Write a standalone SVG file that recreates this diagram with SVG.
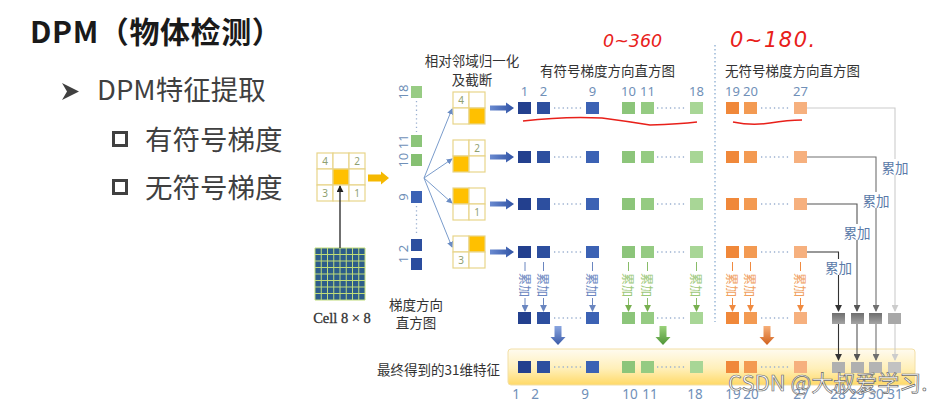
<svg xmlns="http://www.w3.org/2000/svg" width="942" height="403" viewBox="0 0 942 403">
<style>
.cjk{font-family:"Noto Sans CJK SC","Noto Sans",sans-serif}
.num{font-family:"Noto Sans","Noto Sans CJK SC",sans-serif;font-size:13px;fill:#7090b8}
.bnum{font-family:"Noto Sans","Noto Sans CJK SC",sans-serif;font-size:13.5px;fill:#7090b8;text-anchor:middle}
.lbl{font-family:"Noto Sans CJK SC",sans-serif;font-size:13.5px;fill:#333}
.acc{font-family:"Noto Sans CJK SC",sans-serif;font-size:13.5px;fill:#5a7aa8}
.vacc{font-family:"Noto Sans CJK SC",sans-serif;font-size:12px}
.gcell{fill:#fff;stroke:#e8d58a;stroke-width:1.2}
.gnum{font-family:"Noto Sans",sans-serif;font-size:10px;fill:#8fa070;text-anchor:middle;dominant-baseline:central}
.hl{fill:#ffc000}
.dots{stroke:#9ab0d0;stroke-width:1.3;stroke-dasharray:1.3 3;fill:none}
.red{fill:#e8201a;font-family:"DejaVu Sans",sans-serif;font-style:italic}
</style>
<defs>
<marker id="ahBlue" viewBox="0 0 8 8" refX="7" refY="4" markerWidth="6" markerHeight="6" markerUnits="userSpaceOnUse" orient="auto"><path d="M0,0 L8,4 L0,8 z" fill="#6a8cc4"/></marker>
<marker id="ahBlack" viewBox="0 0 8 8" refX="7" refY="4" markerWidth="7" markerHeight="7" markerUnits="userSpaceOnUse" orient="auto"><path d="M0,0 L8,4 L0,8 z" fill="#222"/></marker>
<marker id="ahG1" viewBox="0 0 8 8" refX="7" refY="4" markerWidth="7" markerHeight="7" markerUnits="userSpaceOnUse" orient="auto"><path d="M0,0 L8,4 L0,8 z" fill="#333"/></marker>
<marker id="ahG2" viewBox="0 0 8 8" refX="7" refY="4" markerWidth="7" markerHeight="7" markerUnits="userSpaceOnUse" orient="auto"><path d="M0,0 L8,4 L0,8 z" fill="#555"/></marker>
<marker id="ahG3" viewBox="0 0 8 8" refX="7" refY="4" markerWidth="7" markerHeight="7" markerUnits="userSpaceOnUse" orient="auto"><path d="M0,0 L8,4 L0,8 z" fill="#707070"/></marker>
<marker id="ahG4" viewBox="0 0 8 8" refX="7" refY="4" markerWidth="7" markerHeight="7" markerUnits="userSpaceOnUse" orient="auto"><path d="M0,0 L8,4 L0,8 z" fill="#cccccc"/></marker>
<marker id="ahVB" viewBox="0 0 8 8" refX="7" refY="4" markerWidth="7" markerHeight="7" markerUnits="userSpaceOnUse" orient="auto"><path d="M0,0 L8,4 L0,8 z" fill="#6a86c0"/></marker>
<marker id="ahVG" viewBox="0 0 8 8" refX="7" refY="4" markerWidth="7" markerHeight="7" markerUnits="userSpaceOnUse" orient="auto"><path d="M0,0 L8,4 L0,8 z" fill="#78b050"/></marker>
<marker id="ahVO" viewBox="0 0 8 8" refX="7" refY="4" markerWidth="7" markerHeight="7" markerUnits="userSpaceOnUse" orient="auto"><path d="M0,0 L8,4 L0,8 z" fill="#f08a40"/></marker>
<linearGradient id="barG" x1="0" y1="0" x2="0" y2="1"><stop offset="0" stop-color="#fffbf0"/><stop offset="0.55" stop-color="#ffefb8"/><stop offset="1" stop-color="#ffd966"/></linearGradient>
<linearGradient id="bArr" x1="0" y1="0" x2="1" y2="0"><stop offset="0" stop-color="#6a8ad0"/><stop offset="1" stop-color="#2f52a4"/></linearGradient>
<linearGradient id="dB" x1="0" y1="0" x2="0" y2="1"><stop offset="0" stop-color="#8aa6e0"/><stop offset="1" stop-color="#3a5aa8"/></linearGradient>
<linearGradient id="dG" x1="0" y1="0" x2="0" y2="1"><stop offset="0" stop-color="#9ad27a"/><stop offset="1" stop-color="#4e9436"/></linearGradient>
<linearGradient id="dO" x1="0" y1="0" x2="0" y2="1"><stop offset="0" stop-color="#f7b07a"/><stop offset="1" stop-color="#d0601c"/></linearGradient>
<linearGradient id="gray" x1="0" y1="0" x2="0" y2="1"><stop offset="0" stop-color="#6e6e6e"/><stop offset="1" stop-color="#a4a4a4"/></linearGradient>
<g id="sqRow">
<rect x="518" y="0" width="13" height="12" fill="#23408e"/>
<rect x="537" y="0" width="13" height="12" fill="#2d4f9f"/>
<rect x="586" y="0" width="13" height="12" fill="#3c62b4"/>
<rect x="622" y="0" width="13" height="12" fill="#8cc57a"/>
<rect x="641" y="0" width="13" height="12" fill="#95cb82"/>
<rect x="690" y="0" width="13" height="12" fill="#a8d696"/>
<rect x="726" y="0" width="13" height="12" fill="#f0883a"/>
<rect x="744" y="0" width="13" height="12" fill="#f39a52"/>
<rect x="794" y="0" width="13" height="12" fill="#f6b07e"/>
<path class="dots" d="M554,6 H584 M657,6 H687 M761,6 H791"/>
</g>
<polygon id="blueArr" points="0,-2.5 16,-2.5 16,-5.5 24,0 16,5.5 16,2.5 0,2.5" fill="url(#bArr)"/>
</defs>

<!-- Left text -->
<g id="title">
<text x="30" y="43" class="cjk" font-size="30" font-weight="bold" fill="#1a1a1a" letter-spacing="0.6">DPM（物体检测）</text>
</g>
<g id="bullet1">
<polygon points="62,83 79,91.5 62,100 67,91.5" fill="#404040"/>
<text x="97" y="100" class="cjk" font-size="27.5" fill="#404040">DPM特征提取</text>
</g>
<g id="bullet2">
<rect x="113.5" y="132.5" width="13" height="13" fill="none" stroke="#404040" stroke-width="3"/>
<text x="145" y="150" class="cjk" font-size="27.5" fill="#404040">有符号梯度</text>
</g>
<g id="bullet3">
<rect x="113.5" y="180.5" width="13" height="13" fill="none" stroke="#404040" stroke-width="3"/>
<text x="145" y="198" class="cjk" font-size="27.5" fill="#404040">无符号梯度</text>
</g>

<!-- Cell 8x8 -->
<g id="cell">
<rect x="315" y="248" width="50" height="52" fill="#2d5d8a"/>
<path d="M315,248 H365 V300 H315 Z M321.25,248 V300 M327.5,248 V300 M333.75,248 V300 M340,248 V300 M346.25,248 V300 M352.5,248 V300 M358.75,248 V300 M315,254.5 H365 M315,261 H365 M315,267.5 H365 M315,274 H365 M315,280.5 H365 M315,287 H365 M315,293.5 H365" fill="none" stroke="#c0dc78" stroke-width="1"/>
<text x="342" y="323" text-anchor="middle" font-family="Liberation Serif,serif" font-size="14.5" fill="#333" stroke="#333" stroke-width="0.3">Cell 8 × 8</text>
</g>

<!-- 3x3 grid -->
<g id="grid3">
<rect class="gcell" x="317" y="153" width="16" height="16"/><rect class="gcell" x="333" y="153" width="16" height="16"/><rect class="gcell" x="349" y="153" width="16" height="16"/>
<rect class="gcell" x="317" y="169" width="16" height="16"/><rect class="gcell hl" x="333" y="169" width="16" height="16"/><rect class="gcell" x="349" y="169" width="16" height="16"/>
<rect class="gcell" x="317" y="185" width="16" height="16"/><rect class="gcell" x="333" y="185" width="16" height="16"/><rect class="gcell" x="349" y="185" width="16" height="16"/>
<text class="gnum" x="325" y="161">4</text><text class="gnum" x="357" y="161">2</text>
<text class="gnum" x="325" y="193">3</text><text class="gnum" x="357" y="193">1</text>
</g>

<!-- vertical histogram -->
<g id="vhist">
<rect x="411" y="86" width="11" height="12" fill="#98cc84"/>
<rect x="411" y="135" width="11" height="12" fill="#8cc57a"/>
<rect x="411" y="154" width="11" height="12" fill="#86c072"/>
<rect x="411" y="191" width="11" height="12" fill="#3c62b4"/>
<rect x="411" y="239" width="11" height="12" fill="#2d4f9f"/>
<rect x="411" y="258" width="11" height="12" fill="#2a4c9e"/>
<path d="M416.5,101 V132 M416.5,206 V236" fill="none" stroke="#9ab0d0" stroke-width="1.3" stroke-dasharray="1.3 3"/>
<text class="num" transform="translate(403,92) rotate(-90)" text-anchor="middle" dominant-baseline="central">18</text>
<text class="num" transform="translate(403,151) rotate(-90)" text-anchor="middle" dominant-baseline="central">10 11</text>
<text class="num" transform="translate(403,197) rotate(-90)" text-anchor="middle" dominant-baseline="central">9</text>
<text class="num" transform="translate(403,254) rotate(-90)" text-anchor="middle" dominant-baseline="central">1 2</text>
<text class="lbl" x="416" y="310" text-anchor="middle">梯度方向</text>
<text class="lbl" x="416" y="328" text-anchor="middle">直方图</text>
</g>

<!-- normalization label -->
<g id="normLabel">
<text class="lbl" x="472" y="66" text-anchor="middle">相对邻域归一化</text>
<text class="lbl" x="472" y="85" text-anchor="middle">及截断</text>
</g>

<!-- mini grids -->
<g id="mini1">
<rect class="gcell" x="453" y="92" width="16" height="16"/><rect class="gcell" x="469" y="92" width="16" height="16"/>
<rect class="gcell" x="453" y="108" width="16" height="16"/><rect class="gcell hl" x="469" y="108" width="16" height="16"/>
<text class="gnum" x="461" y="100">4</text>
</g>
<g id="mini2">
<rect class="gcell" x="453" y="140" width="16" height="16"/><rect class="gcell" x="469" y="140" width="16" height="16"/>
<rect class="gcell hl" x="453" y="156" width="16" height="16"/><rect class="gcell" x="469" y="156" width="16" height="16"/>
<text class="gnum" x="477" y="148">2</text>
</g>
<g id="mini3">
<rect class="gcell hl" x="453" y="188" width="16" height="16"/><rect class="gcell" x="469" y="188" width="16" height="16"/>
<rect class="gcell" x="453" y="204" width="16" height="16"/><rect class="gcell" x="469" y="204" width="16" height="16"/>
<text class="gnum" x="477" y="212">1</text>
</g>
<g id="mini4">
<rect class="gcell" x="453" y="236" width="16" height="16"/><rect class="gcell hl" x="469" y="236" width="16" height="16"/>
<rect class="gcell" x="453" y="252" width="16" height="16"/><rect class="gcell" x="469" y="252" width="16" height="16"/>
<text class="gnum" x="461" y="260">3</text>
</g>

<!-- headers -->
<g id="headers">
<text class="lbl" x="540" y="76" fill="#444">有符号梯度方向直方图</text>
<text class="lbl" x="725" y="76" fill="#444">无符号梯度方向直方图</text>
<text class="num" x="524.5" y="96" text-anchor="middle">1</text>
<text class="num" x="543.5" y="96" text-anchor="middle">2</text>
<text class="num" x="592.5" y="96" text-anchor="middle">9</text>
<text class="num" x="628.5" y="96" text-anchor="middle">10</text>
<text class="num" x="647.5" y="96" text-anchor="middle">11</text>
<text class="num" x="696.5" y="96" text-anchor="middle">18</text>
<text class="num" x="732.5" y="96" text-anchor="middle">19</text>
<text class="num" x="750.5" y="96" text-anchor="middle">20</text>
<text class="num" x="800.5" y="96" text-anchor="middle">27</text>
</g>

<!-- handwritten annotations -->
<g id="annot">
<text class="red" x="603" y="47" font-size="17.5">0~360</text>
<text class="red" x="730" y="47" font-size="21" letter-spacing="1.5">0~180.</text>
<path d="M523,121 Q565,116 602,118 Q625,121 650,125 Q680,124 697,122" fill="none" stroke="#e8201a" stroke-width="1.6"/>
<path d="M733,122 Q752,126 770,123 Q788,120 802,120" fill="none" stroke="#e8201a" stroke-width="1.6"/>
</g>

<!-- divider -->
<line x1="715" y1="45" x2="715" y2="322" stroke="#9bb8d8" stroke-width="1.5" stroke-dasharray="1.5 2.5"/>

<!-- histogram rows -->
<g id="row1"><use href="#sqRow" y="102"/></g>
<g id="row2"><use href="#sqRow" y="151"/></g>
<g id="row3"><use href="#sqRow" y="198"/></g>
<g id="row4"><use href="#sqRow" y="246"/></g>
<g id="rowSum"><use href="#sqRow" y="312"/></g>

<!-- gray accumulated squares -->
<g id="graySum">
<rect x="832" y="313" width="13" height="11" fill="url(#gray)"/>
<rect x="851" y="313" width="13" height="11" fill="url(#gray)"/>
<rect x="869" y="313" width="13" height="11" fill="url(#gray)"/>
<rect x="888" y="313" width="13" height="11" fill="#a8a8a8"/>
</g>

<!-- final bar -->
<g id="finalBar">
<rect x="508" y="349" width="407" height="36" rx="3" fill="url(#barG)" stroke="#f2dfa6" stroke-width="1"/>
<use href="#sqRow" y="361"/>
<rect x="832" y="362" width="13" height="11" fill="#b0b0b0"/>
<rect x="851" y="362" width="13" height="11" fill="#b0b0b0"/>
<rect x="869" y="362" width="13" height="11" fill="#b4b4b4"/>
<rect x="888" y="362" width="13" height="11" fill="#c2c2c2"/>
<text class="lbl" x="377" y="375">最终得到的31维特征</text>
<text class="bnum" x="516" y="399">1</text>
<text class="bnum" x="535" y="399">2</text>
<text class="bnum" x="585" y="399">9</text>
<text class="bnum" x="630" y="399">10</text>
<text class="bnum" x="650" y="399">11</text>
<text class="bnum" x="695" y="399">18</text>
<text class="bnum" x="733" y="399">19</text>
<text class="bnum" x="751" y="399">20</text>
<text class="bnum" x="801" y="399">27</text>
<text class="bnum" x="838" y="399">28</text>
<text class="bnum" x="857" y="399">29</text>
<text class="bnum" x="876" y="399">30</text>
<text class="bnum" x="895" y="399">31</text>
</g>

<!-- connectors -->
<g id="connectors">
<line x1="340" y1="248" x2="340" y2="186" stroke="#222" stroke-width="1.3" marker-end="url(#ahBlack)"/>
<polygon points="368,174.5 381,174.5 381,171.5 389,178 381,184.5 381,181.5 368,181.5" fill="#f5b800"/>
<g fill="none" stroke="#7a9ccc" stroke-width="1">
<line x1="424" y1="178" x2="452" y2="109" marker-end="url(#ahBlue)"/>
<line x1="424" y1="178" x2="452" y2="159" marker-end="url(#ahBlue)"/>
<line x1="424" y1="178" x2="452" y2="203" marker-end="url(#ahBlue)"/>
<line x1="424" y1="178" x2="452" y2="247" marker-end="url(#ahBlue)"/>
</g>
<use href="#blueArr" x="490" y="108"/>
<use href="#blueArr" x="490" y="157"/>
<use href="#blueArr" x="490" y="204"/>
<use href="#blueArr" x="490" y="252"/>

<!-- vertical accumulate arrows -->
<g fill="none" stroke-width="1">
<path d="M525,262 V271 M525,298 V311" stroke="#6a86c0" marker-end="url(#ahVB)"/>
<path d="M543.5,262 V271 M543.5,298 V311" stroke="#6a86c0" marker-end="url(#ahVB)"/>
<path d="M592.5,262 V271 M592.5,298 V311" stroke="#6a86c0" marker-end="url(#ahVB)"/>
<path d="M628.5,262 V271 M628.5,298 V311" stroke="#88bc68" marker-end="url(#ahVG)"/>
<path d="M647.5,262 V271 M647.5,298 V311" stroke="#88bc68" marker-end="url(#ahVG)"/>
<path d="M696.5,262 V271 M696.5,298 V311" stroke="#88bc68" marker-end="url(#ahVG)"/>
<path d="M732.5,262 V271 M732.5,298 V311" stroke="#f08a40" marker-end="url(#ahVO)"/>
<path d="M750.5,262 V271 M750.5,298 V311" stroke="#f08a40" marker-end="url(#ahVO)"/>
<path d="M800.5,262 V271 M800.5,298 V311" stroke="#f08a40" marker-end="url(#ahVO)"/>
</g>
<g class="vacc" dominant-baseline="central">
<text transform="translate(525,273) rotate(90)" fill="#6a86c0">累加</text>
<text transform="translate(543.5,273) rotate(90)" fill="#6a86c0">累加</text>
<text transform="translate(592.5,273) rotate(90)" fill="#6a86c0">累加</text>
<text transform="translate(628.5,273) rotate(90)" fill="#9cc878">累加</text>
<text transform="translate(647.5,273) rotate(90)" fill="#9cc878">累加</text>
<text transform="translate(696.5,273) rotate(90)" fill="#9cc878">累加</text>
<text transform="translate(732.5,273) rotate(90)" fill="#f0a060">累加</text>
<text transform="translate(750.5,273) rotate(90)" fill="#f0a060">累加</text>
<text transform="translate(800.5,273) rotate(90)" fill="#f0a060">累加</text>
</g>

<!-- thick down arrows -->
<polygon points="554.5,326 561.5,326 561.5,337 565.5,337 558,345 550.5,337 554.5,337" fill="url(#dB)"/>
<polygon points="659.5,326 666.5,326 666.5,337 670.5,337 663,345 655.5,337 659.5,337" fill="url(#dG)"/>
<polygon points="763.5,326 770.5,326 770.5,337 774.5,337 767,345 759.5,337 763.5,337" fill="url(#dO)"/>

<!-- gray accumulation connectors -->
<g fill="none" stroke-width="1.1">
<path d="M807,108 H895 V311" stroke="#cccccc" marker-end="url(#ahG4)"/>
<path d="M807,157 H876 V311" stroke="#707070" marker-end="url(#ahG3)"/>
<path d="M807,204 H857 V311" stroke="#555" marker-end="url(#ahG2)"/>
<path d="M807,252 H838.5 V311" stroke="#333" marker-end="url(#ahG1)"/>
<path d="M838.5,324 V360" stroke="#333" marker-end="url(#ahG1)"/>
<path d="M857,324 V360" stroke="#555" marker-end="url(#ahG2)"/>
<path d="M876,324 V360" stroke="#707070" marker-end="url(#ahG3)"/>
<path d="M895,324 V360" stroke="#cccccc" marker-end="url(#ahG4)"/>
</g>
<g>
<rect x="881" y="159" width="28" height="16" fill="#fff"/>
<rect x="862" y="192" width="28" height="16" fill="#fff"/>
<rect x="843" y="224" width="28" height="16" fill="#fff"/>
<rect x="824" y="259" width="28" height="16" fill="#fff"/>
<text class="acc" x="895" y="167" text-anchor="middle" dominant-baseline="central">累加</text>
<text class="acc" x="876" y="200" text-anchor="middle" dominant-baseline="central">累加</text>
<text class="acc" x="857" y="232" text-anchor="middle" dominant-baseline="central">累加</text>
<text class="acc" x="838.5" y="267" text-anchor="middle" dominant-baseline="central">累加</text>
</g>
</g>

<!-- watermark -->
<text x="728" y="391" font-family="Noto Sans CJK SC,Noto Sans,sans-serif" font-size="22" fill="#ffffff" stroke="#6a6a6a" stroke-width="0.7">CSDN @大叔爱学习.</text>
</svg>
